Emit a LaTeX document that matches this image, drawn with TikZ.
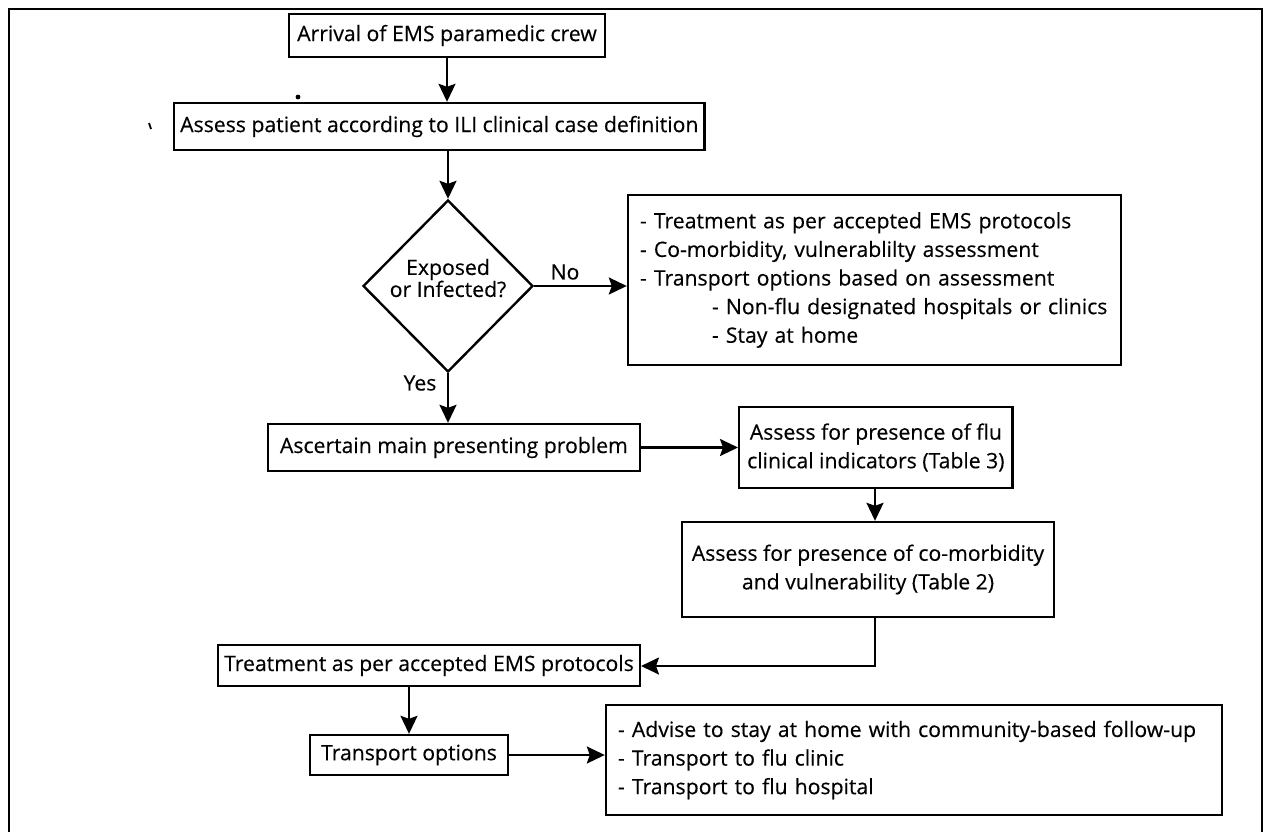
\documentclass[tikz,border=0pt]{standalone}
\usepackage{fontspec}
\setmainfont{Open Sans}[FakeBold=0.35]
\usetikzlibrary{arrows.meta,shapes.geometric}
\begin{document}
\begin{tikzpicture}[x=0.5pt,y=-0.5pt,
  font=\fontsize{10.6pt}{14.3pt}\selectfont,
  box/.style={draw, line width=1.2pt, inner xsep=4pt, inner ysep=0pt, align=center},
  listbox/.style={draw, line width=1.2pt, inner xsep=6pt, inner ysep=0pt, align=left},
  arr/.style={line width=1.1pt, -{Stealth[length=9pt,width=8.5pt,inset=1.5pt]}},
  lbl/.style={inner sep=0pt}]
\useasboundingbox (0,0) rectangle (1264,832);

% outer frame, open at the foot
\draw[line width=1.1pt] (9,832) -- (9,9) -- (1262,9) -- (1262,832);

% small specks near the top left
\draw[line width=0.9pt] (149,123) -- (151,129);
\fill (298,97) circle (1.2pt);

% steps
\node[box, minimum height=21.5pt] (arrival) at (447,35.5)
  {Arrival of EMS paramedic crew};
\node[box, inner xsep=3pt, minimum height=23.5pt, anchor=west] (assess) at (173,126.5)
  {Assess patient according to ILI clinical case definition};
\node[diamond, draw, line width=1.2pt, inner sep=0pt, minimum width=85pt,
  minimum height=86pt] (exposed) at (448,286) {};
\node[lbl, align=center, font=\fontsize{10.6pt}{11pt}\selectfont]
  (exposedtxt) at (448,278) {Exposed\\or Infected?};
\node[listbox, text width=234.5pt, minimum height=85pt] (nonflu) at (874.5,280)
  {- Treatment as per accepted EMS protocols\\
   - Co-morbidity, vulnerablilty assessment\\
   - Transport options based on assessment\\
   \hspace*{36pt}- Non-flu designated hospitals or clinics\\
   \hspace*{36pt}- Stay at home};
\node[box, inner xsep=6pt, minimum height=23.5pt, anchor=east] (problem) at (641,447.5)
  {Ascertain main presenting problem};
\node[box, minimum height=40.5pt, anchor=west] (indicators) at (738,447.5)
  {Assess for presence of flu\\clinical indicators (Table 3)};
\node[box, inner xsep=5pt, minimum height=47.5pt] (comorb) at (868,569.5)
  {Assess for presence of co-morbidity\\and vulnerability (Table 2)};
\node[box, inner xsep=3pt, minimum height=20.5pt, anchor=east] (treat) at (641,665.5)
  {Treatment as per accepted EMS protocols};
\node[box, inner xsep=5.5pt, minimum height=20pt] (transport) at (409,755)
  {Transport options};
\node[listbox, text width=296pt, minimum height=55pt] (options) at (914,760)
  {- Advise to stay at home with community-based follow-up\\
   - Transport to flu clinic\\
   - Transport to flu hospital};

% branch labels
\node[lbl] (nolbl) at (565,272) {No};
\node[lbl] (yeslbl) at (420,383) {Yes};

% bend point of the return line
\coordinate (bend) at (875,666);

% connectors
\draw[arr] (arrival.south) -- (arrival.south |- assess.north);
\draw[arr] (exposed.north |- assess.south) -- (exposed.north);
\draw[arr] (exposed.east) -- (exposed.east -| nonflu.west);
\draw[arr] (exposed.south) -- (exposed.south |- problem.north);
\draw[arr] (problem.east) -- (problem.east -| indicators.west);
\draw[arr] (indicators.south -| bend) -- (comorb.north -| bend);
\draw[arr] (comorb.south -| bend) -- (bend) -- (bend -| treat.east);
\draw[arr] (treat.south -| transport.north) -- (transport.north);
\draw[arr] (transport.east) -- (transport.east -| options.west);
\end{tikzpicture}
\end{document}
